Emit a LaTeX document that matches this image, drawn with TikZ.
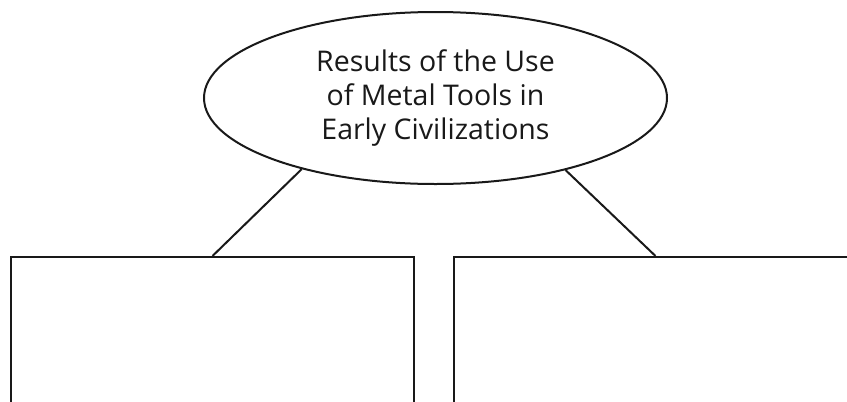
\documentclass[tikz,border=0pt]{standalone}
\usepackage{fontspec}
\setmainfont{Open Sans}
\usetikzlibrary{shapes.geometric}
\begin{document}
\begin{tikzpicture}[x=1pt,y=-1pt,
  outline/.style={draw=black!90,line width=2pt},
  titleshape/.style={outline,ellipse,minimum width=463pt,minimum height=172pt,inner sep=0pt,align=center,
    font=\fontsize{28.5}{34}\selectfont,text=black!90},
  answerbox/.style={outline,rectangle,minimum width=403pt,minimum height=200pt,inner sep=0pt,anchor=north},
  link/.style={draw=black!90,line width=2pt}]
\useasboundingbox (0,0) rectangle (847,402);
\clip (0,0) rectangle (847,402);
\node[titleshape] (title) at (435.5,98) {Results of the Use\\of Metal Tools in\\Early Civilizations};
\node[answerbox] (left) at (212.5,256) {};
\node[answerbox] (right) at (655.5,256) {};
\draw[link] (title.208.5) -- (left.north);
\draw[link] (title.331.5) -- (right.north);
\end{tikzpicture}
\end{document}
